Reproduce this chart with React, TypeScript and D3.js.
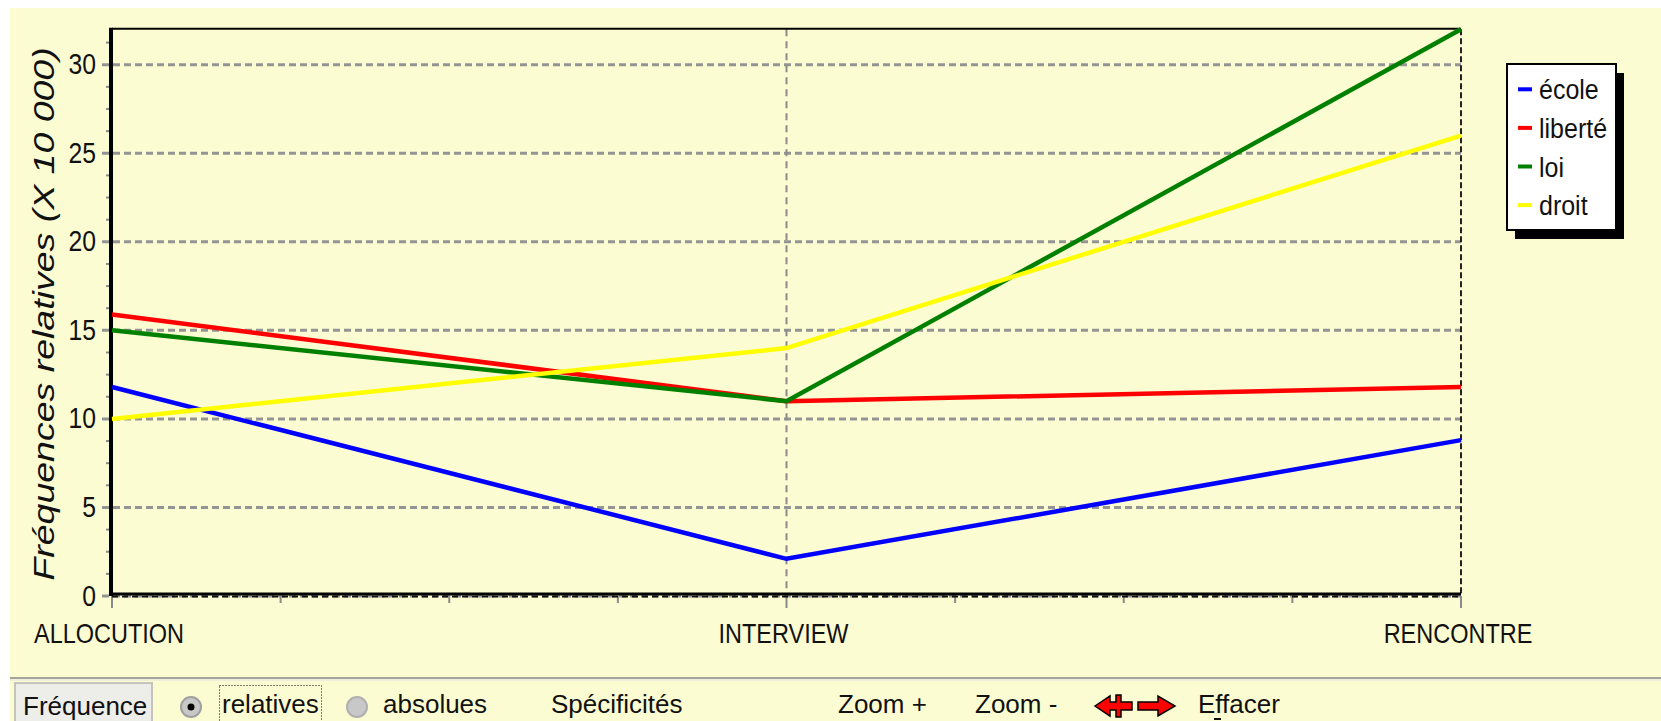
import React from 'react';
import * as d3 from 'd3';

const categories = ['ALLOCUTION', 'INTERVIEW', 'RENCONTRE'];
const seriesNames = ['école', 'liberté', 'loi', 'droit'];
const ecoleValues = [11.8, 2.1, 8.8];
const liberteValues = [15.9, 11.0, 11.8];
const loiValues = [15.0, 11.0, 32.0];
const droitValues = [10.0, 14.0, 26.0];
const seriesColors = ['#0000ff', '#ff0000', '#008000', '#ffff00'];
const yTicks = [0, 5, 10, 15, 20, 25, 30];
const yDomain = [0, 32];
const yLabel = 'Fréquences relatives (X 10 000)';
const toolbarButton = 'Fréquence';
const radioLabels = ['relatives', 'absolues'];
const toolbarItems = ['Spécificités', 'Zoom +', 'Zoom -'];
const clearLabel = 'Effacer';

const W = 1661;
const H = 721;
const BG = '#fcfcd2';
const FONT = "'Liberation Sans', Arial, sans-serif";

export default function App() {
  const left = 112;
  const right = 1461;
  const top = 29.3;
  const bottom = 596;

  const x = d3.scalePoint<string>().domain(categories).range([left, right]);
  const y = d3.scaleLinear().domain(yDomain).range([bottom, top]);

  const allSeries = [ecoleValues, liberteValues, loiValues, droitValues];
  const line = d3
    .line<number>()
    .x((_, i) => x(categories[i]) as number)
    .y((d) => y(d));

  const yMinor: number[] = [];
  for (let i = 0; i < yTicks.length; i++) {
    for (let k = 1; k < 4; k++) {
      const v = yTicks[i] + (k * 5) / 4;
      if (v < yDomain[1]) yMinor.push(v);
    }
  }
  const xMinor: number[] = [];
  for (let i = 0; i < categories.length - 1; i++) {
    const a = x(categories[i]) as number;
    const b = x(categories[i + 1]) as number;
    for (let k = 1; k < 4; k++) xMinor.push(a + ((b - a) * k) / 4);
  }

  const legendX = 1507;
  const legendY = 64;
  const legendW = 109;
  const legendH = 166;
  const legendStep = 38.6;

  const tbY = 713;

  return (
    <div style={{ position: 'absolute', left: 0, top: 0, width: W, height: H, overflow: 'hidden' }}>
      <svg width={W} height={H} style={{ display: 'block' }} fontFamily={FONT}>
        <rect x={0} y={0} width={W} height={H} fill="#ffffff" />
        <rect x={10} y={8} width={W - 10} height={H - 8} fill={BG} />

        {yTicks.map((t) => (
          <line
            key={'g' + t}
            x1={102}
            x2={right}
            y1={y(t)}
            y2={y(t)}
            stroke="#949494"
            strokeWidth={3}
            strokeDasharray="7,4"
          />
        ))}
        {categories.slice(1, -1).map((c) => (
          <line
            key={'vg' + c}
            x1={x(c)}
            x2={x(c)}
            y1={top}
            y2={bottom}
            stroke="#8a8a8a"
            strokeWidth={2}
            strokeDasharray="7,5"
          />
        ))}
        {yMinor.map((v) => (
          <line key={'ym' + v} x1={106} x2={111} y1={y(v)} y2={y(v)} stroke="#8a8a8a" strokeWidth={2} />
        ))}
        {xMinor.map((px, i) => (
          <line key={'xm' + i} x1={px} x2={px} y1={bottom} y2={bottom + 7} stroke="#8a8a8a" strokeWidth={2} />
        ))}
        {categories.map((c) => (
          <line key={'xt' + c} x1={x(c)} x2={x(c)} y1={bottom} y2={bottom + 12} stroke="#8a8a8a" strokeWidth={2} />
        ))}

        <line x1={left} x2={right} y1={top - 0.5} y2={top - 0.5} stroke="#000" strokeWidth={2} />
        <line x1={right} x2={right} y1={top} y2={bottom} stroke="#222" strokeWidth={2} strokeDasharray="6,3" />
        <line x1={left - 1.5} x2={right} y1={bottom - 2} y2={bottom - 2} stroke="#000" strokeWidth={3} />
        <line x1={left} x2={right} y1={bottom + 0.5} y2={bottom + 0.5} stroke="#111" strokeWidth={2} strokeDasharray="6,4" />
        <line x1={left - 1} x2={left - 1} y1={top - 1.5} y2={bottom} stroke="#000" strokeWidth={4} />

        {allSeries.map((vals, i) => (
          <path
            key={'s' + i}
            d={line(vals) as string}
            fill="none"
            stroke={seriesColors[i]}
            strokeWidth={4.5}
            strokeLinejoin="miter"
          />
        ))}

        {yTicks.map((t) => (
          <text
            key={'yl' + t}
            transform={`translate(96,${y(t) + 9.5}) scale(0.95,1.12)`}
            textAnchor="end"
            fontSize={26}
            fill="#111"
          >
            {t}
          </text>
        ))}

        {categories.map((c) => (
          <text
            key={'xl' + c}
            transform={`translate(${(x(c) as number) - 3},643) scale(1,1.2)`}
            textAnchor="middle"
            fontSize={23.5}
            fill="#111"
          >
            {c}
          </text>
        ))}

        <text
          transform={`translate(53.5,314) rotate(-90) scale(1.25,1)`}
          textAnchor="middle"
          fontSize={30}
          fontStyle="italic"
          fill="#111"
        >
          {yLabel}
        </text>

        <rect x={legendX + 8} y={legendY + 9} width={legendW} height={legendH} fill="#000" />
        <rect x={legendX} y={legendY} width={legendW} height={legendH} fill="#fff" stroke="#000" strokeWidth={2} />
        {seriesNames.map((n, i) => {
          const cy = legendY + 25.3 + i * legendStep;
          return (
            <g key={'lg' + n}>
              <rect x={legendX + 11} y={cy - 2} width={14} height={4} fill={seriesColors[i]} />
              <text transform={`translate(${legendX + 32},${cy + 10}) scale(1,1.08)`} fontSize={25} fill="#111">
                {n}
              </text>
            </g>
          );
        })}

        <line x1={10} x2={W} y1={678} y2={678} stroke="#a4a49c" strokeWidth={2} />
        <line x1={10} x2={W} y1={680} y2={680} stroke="#ececdc" strokeWidth={1.5} />
        <rect x={15} y={683} width={137} height={45} fill="#ededea" stroke="#c4c4bc" strokeWidth={2} />
        <text x={23} y={tbY + 2} fontSize={26} fill="#111">
          {toolbarButton}
        </text>

        <circle cx={191} cy={707} r={10} fill="#c8c8c8" stroke="#a0a0a0" strokeWidth={2} />
        <circle cx={191} cy={707} r={3.5} fill="#000" />
        <rect x={219.5} y={685.5} width={102} height={40} fill="none" stroke="#000" strokeWidth={1} strokeDasharray="1,2" />
        <text x={222} y={tbY} fontSize={26} fill="#111">
          {radioLabels[0]}
        </text>

        <circle cx={357} cy={707} r={10} fill="#c8c8c8" stroke="#b0b0b0" strokeWidth={2} />
        <text x={383} y={tbY} fontSize={26} fill="#111">
          {radioLabels[1]}
        </text>

        <text x={551} y={tbY} fontSize={26} fill="#111">
          {toolbarItems[0]}
        </text>
        <text x={838} y={tbY} fontSize={26} fill="#111">
          {toolbarItems[1]}
        </text>
        <text x={975} y={tbY} fontSize={26} fill="#111">
          {toolbarItems[2]}
        </text>

        <g fill="#ff0000" stroke="#000" strokeWidth={1.5} strokeLinejoin="miter">
          <polygon points="1095,706 1110,696 1110,702 1116,702 1116,695 1121,695 1121,702 1132,702 1132,710 1121,710 1121,717 1116,717 1116,710 1110,710 1110,716" />
          <polygon points="1138,702 1158,702 1158,696 1175,706 1158,716 1158,710 1138,710" />
        </g>
        <text x={1198} y={tbY} fontSize={26} fill="#111">
          {clearLabel}
        </text>
        <line x1={1214} x2={1221} y1={719} y2={719} stroke="#111" strokeWidth={2} />
      </svg>
    </div>
  );
}
